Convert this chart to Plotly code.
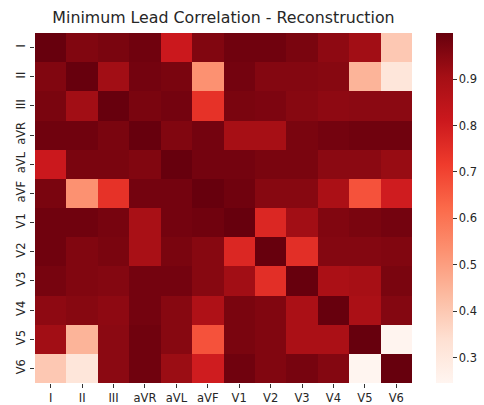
import plotly.graph_objects as go

leads = ["I", "II", "III", "aVR", "aVL", "aVF", "V1", "V2", "V3", "V4", "V5", "V6"]

row_I   = [0.999, 0.96, 0.97, 0.985, 0.81, 0.96, 0.985, 0.985, 0.97, 0.94, 0.91, 0.40]
row_II  = [0.96, 0.999, 0.91, 0.98, 0.97, 0.53, 0.98, 0.955, 0.955, 0.95, 0.45, 0.315]
row_III = [0.97, 0.91, 0.999, 0.97, 0.98, 0.74, 0.97, 0.965, 0.95, 0.94, 0.945, 0.945]
row_aVR = [0.985, 0.985, 0.97, 0.999, 0.96, 0.98, 0.90, 0.90, 0.97, 0.98, 0.985, 0.985]
row_aVL = [0.81, 0.97, 0.97, 0.96, 0.999, 0.98, 0.98, 0.97, 0.97, 0.945, 0.945, 0.925]
row_aVF = [0.97, 0.53, 0.74, 0.98, 0.98, 0.999, 0.985, 0.95, 0.95, 0.89, 0.67, 0.80]
row_V1  = [0.985, 0.985, 0.975, 0.895, 0.98, 0.985, 0.999, 0.77, 0.91, 0.96, 0.97, 0.98]
row_V2  = [0.985, 0.96, 0.97, 0.895, 0.97, 0.95, 0.77, 0.999, 0.75, 0.955, 0.955, 0.96]
row_V3  = [0.975, 0.96, 0.955, 0.98, 0.98, 0.95, 0.91, 0.75, 0.999, 0.89, 0.90, 0.97]
row_V4  = [0.94, 0.95, 0.94, 0.98, 0.95, 0.88, 0.97, 0.96, 0.89, 0.999, 0.89, 0.955]
row_V5  = [0.91, 0.45, 0.945, 0.985, 0.95, 0.67, 0.97, 0.96, 0.89, 0.89, 0.999, 0.25]
row_V6  = [0.40, 0.315, 0.945, 0.985, 0.92, 0.80, 0.985, 0.96, 0.975, 0.955, 0.247, 0.999]

z = [row_I, row_II, row_III, row_aVR, row_aVL, row_aVF,
     row_V1, row_V2, row_V3, row_V4, row_V5, row_V6]

colorbar_ticks = [0.3, 0.4, 0.5, 0.6, 0.7, 0.8, 0.9]

reds = [
    [0.0, "rgb(255,245,240)"], [0.125, "rgb(254,224,210)"], [0.25, "rgb(252,187,161)"],
    [0.375, "rgb(252,146,114)"], [0.5, "rgb(251,106,74)"], [0.625, "rgb(239,59,44)"],
    [0.75, "rgb(203,24,29)"], [0.875, "rgb(165,15,21)"], [1.0, "rgb(103,0,13)"],
]

font = "DejaVu Sans"

fig = go.Figure(go.Heatmap(
    z=z, x=leads, y=leads, colorscale=reds,
    zmin=0.246, zmax=0.999, xgap=0, ygap=0,
    colorbar=dict(
        thickness=17, len=1.0, lenmode="fraction", y=0.5, yanchor="middle",
        x=1.064, xanchor="left", xpad=0, ypad=0, outlinewidth=0,
        tickvals=colorbar_ticks, ticktext=[f"{t:.1f}" for t in colorbar_ticks],
        ticks="outside", ticklen=4, tickcolor="#333", tickwidth=1,
        tickfont=dict(family=font, size=11.5, color="#262626"),
    ),
))

fig.update_layout(
    width=484, height=405,
    margin=dict(l=35, r=72, t=33, b=22, autoexpand=False),
    paper_bgcolor="white", plot_bgcolor="white",
    title=dict(text="Minimum Lead Correlation - Reconstruction",
               x=(35 + 412) / 2 / 484, xanchor="center", y=1 - 17.5 / 405, yanchor="middle",
               font=dict(family=font, size=15.8, color="#262626")),
    font=dict(family=font),
)
fig.update_xaxes(showgrid=False, zeroline=False, ticks="outside", ticklen=4,
                 tickcolor="#333", tickfont=dict(family=font, size=11.5, color="#262626"),
                 tickangle=0, automargin=False)
fig.update_yaxes(showgrid=False, zeroline=False, ticks="outside", ticklen=4,
                 tickcolor="#333", tickfont=dict(family=font, size=11.5, color="#262626"),
                 tickangle=-90, autorange="reversed", automargin=False)

fig.write_html("out.html")
